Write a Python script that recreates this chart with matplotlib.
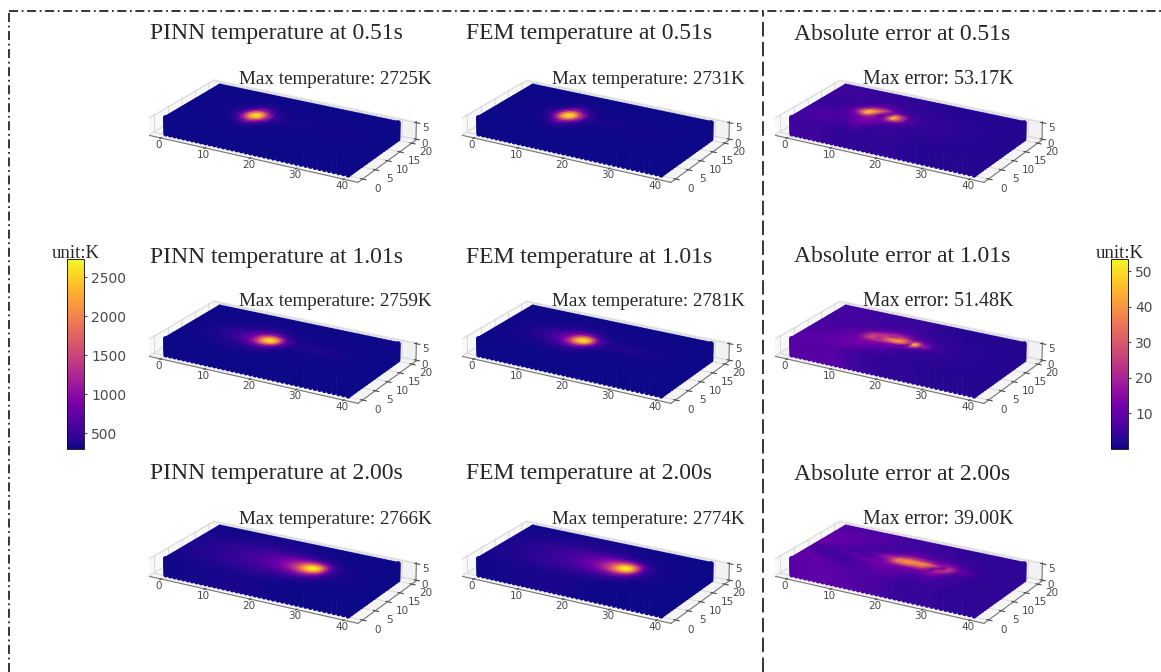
import numpy as np
import matplotlib
matplotlib.use('Agg')
import matplotlib.pyplot as plt
from matplotlib.cm import ScalarMappable
from matplotlib.colors import Normalize
from mpl_toolkits.mplot3d import proj3d


WIDTH = 1161
HEIGHT = 672

COLUMN_TITLES = ['PINN temperature at', 'FEM temperature at', 'Absolute error at']
TIMES = ['0.51s', '1.01s', '2.00s']
MAX_PINN = ['2725K', '2759K', '2766K']
MAX_FEM = ['2731K', '2781K', '2774K']
MAX_ERROR = ['53.17K', '51.48K', '39.00K']

TEMP_RANGE = (295, 2735)
ERROR_RANGE = (0, 53.4)
TEMP_TICKS = [500, 1000, 1500, 2000, 2500]
ERROR_TICKS = [10, 20, 30, 40, 50]

# top face of the melt pool box (K), rows follow y nodes
X_T1 = [0, 8, 10, 11.5, 12.5, 13.5, 14.5, 15.5, 16.5, 18, 20, 40]
Y_T1 = [0, 3.5, 5.6, 7.2, 8.5, 9.8, 11.1, 12.4, 14, 16, 20]
TEMP_051 = [
    [295, 295, 295, 295, 295, 295, 295, 295, 295, 295, 295, 295],
    [300, 300, 305, 310, 320, 330, 335, 330, 315, 305, 300, 300],
    [300, 305, 320, 350, 420, 520, 560, 500, 400, 340, 310, 300],
    [300, 310, 340, 450, 750, 1100, 1250, 1050, 700, 400, 320, 300],
    [300, 315, 370, 660, 1300, 2000, 2300, 2000, 1250, 520, 335, 300],
    [300, 320, 400, 800, 1600, 2450, 2700, 2450, 1500, 620, 350, 300],
    [300, 315, 370, 660, 1300, 2000, 2300, 2000, 1250, 520, 335, 300],
    [300, 310, 340, 450, 750, 1100, 1250, 1050, 700, 400, 320, 300],
    [300, 305, 320, 350, 420, 520, 560, 500, 400, 340, 310, 300],
    [300, 300, 305, 310, 320, 330, 335, 330, 315, 305, 300, 300],
    [295, 295, 295, 295, 295, 295, 295, 295, 295, 295, 295, 295],
]

X_T2 = [0, 5, 9, 12, 14, 15, 16, 17, 18, 19, 20, 21, 23, 40]
Y_T2 = [0, 3.2, 5.3, 6.8, 8, 9.3, 10.6, 11.9, 13.5, 15.5, 20]
TEMP_101 = [
    [300, 300, 300, 300, 300, 300, 300, 300, 300, 300, 300, 300, 300, 300],
    [300, 305, 320, 335, 345, 350, 355, 355, 350, 340, 325, 315, 305, 300],
    [305, 320, 350, 390, 430, 470, 500, 510, 490, 450, 390, 350, 315, 300],
    [305, 330, 390, 480, 640, 800, 1000, 1150, 1100, 900, 600, 430, 340, 300],
    [310, 335, 410, 560, 820, 1150, 1600, 2100, 2200, 1950, 1200, 650, 370, 300],
    [310, 340, 420, 590, 900, 1300, 1950, 2550, 2720, 2500, 1600, 800, 400, 300],
    [310, 335, 410, 560, 820, 1150, 1600, 2100, 2200, 1950, 1200, 650, 370, 300],
    [305, 330, 390, 470, 620, 780, 980, 1100, 1080, 880, 590, 420, 340, 300],
    [305, 320, 350, 380, 420, 450, 470, 480, 470, 430, 380, 340, 315, 300],
    [300, 305, 315, 325, 335, 340, 345, 345, 340, 330, 320, 310, 305, 300],
    [300, 300, 300, 300, 300, 300, 300, 300, 300, 300, 300, 300, 300, 300],
]

X_T3 = [0, 8, 13, 17, 20, 22, 24, 25, 26, 27, 28, 29, 30, 31, 33, 40]
Y_T3 = [0, 2.5, 5, 6.8, 8, 9.2, 10.4, 11.6, 12.8, 14, 16, 20]
TEMP_200 = [
    [310, 330, 340, 340, 330, 320, 310, 305, 305, 300, 300, 300, 300, 300, 300, 300],
    [330, 360, 390, 400, 400, 390, 370, 360, 350, 340, 330, 320, 315, 310, 305, 300],
    [340, 400, 450, 490, 520, 550, 560, 550, 530, 510, 460, 420, 380, 350, 320, 300],
    [350, 420, 500, 580, 680, 800, 950, 1050, 1150, 1150, 1000, 780, 560, 420, 330, 300],
    [350, 430, 520, 630, 780, 1000, 1350, 1600, 1850, 1950, 1750, 1300, 800, 480, 340, 300],
    [350, 430, 530, 650, 840, 1100, 1600, 2050, 2500, 2700, 2500, 1800, 1000, 550, 350, 300],
    [350, 430, 530, 650, 840, 1100, 1600, 2050, 2550, 2730, 2500, 1800, 1000, 550, 350, 300],
    [350, 430, 520, 630, 780, 1000, 1350, 1600, 1850, 1950, 1750, 1300, 800, 480, 340, 300],
    [350, 420, 500, 580, 680, 800, 950, 1050, 1120, 1100, 980, 760, 540, 410, 330, 300],
    [340, 400, 450, 490, 530, 560, 570, 560, 540, 500, 460, 420, 380, 350, 320, 300],
    [330, 360, 380, 390, 390, 380, 370, 360, 350, 340, 330, 320, 315, 310, 305, 300],
    [310, 320, 330, 330, 325, 315, 310, 305, 305, 300, 300, 300, 300, 300, 300, 300],
]

X_E1 = [0, 5, 8, 9.5, 11, 12.5, 14, 15.5, 17, 18.5, 20, 23, 29, 40]
Y_E1 = [0, 4, 6, 7.5, 8.7, 9.6, 10.8, 12, 13.5, 16, 20]
ERROR_051 = [
    [5, 5, 4, 4, 3, 3, 3, 3, 3, 3, 3, 3, 2, 2],
    [6, 7, 6, 6, 8, 10, 8, 5, 4, 4, 4, 3, 3, 2],
    [6, 7, 7, 9, 11, 13, 12, 9, 6, 5, 4, 3, 3, 2],
    [5, 6, 7, 9, 13, 15, 14, 13, 13, 10, 6, 4, 3, 2],
    [5, 5, 8, 16, 32, 22, 8, 14, 36, 24, 9, 4, 3, 2],
    [4, 5, 9, 24, 48, 30, 6, 18, 50, 28, 9, 4, 3, 2],
    [4, 4, 8, 22, 46, 42, 20, 10, 38, 24, 7, 4, 3, 2],
    [4, 4, 6, 12, 22, 30, 28, 14, 11, 9, 5, 4, 3, 2],
    [4, 4, 4, 5, 8, 11, 11, 8, 5, 4, 4, 3, 3, 2],
    [5, 5, 4, 4, 4, 4, 4, 4, 4, 3, 3, 3, 2, 2],
    [4, 4, 4, 4, 4, 4, 3, 3, 3, 3, 3, 2, 2, 2],
]

X_E2 = [0, 6, 10, 12.5, 14.5, 16.5, 18.5, 20, 21, 22, 23.5, 26, 31, 40]
Y_E2 = [0, 3, 5.5, 6.8, 7.6, 8.5, 9.5, 10.5, 11.5, 13, 15.5, 20]
ERROR_101 = [
    [8, 8, 8, 6, 5, 4, 4, 3, 3, 3, 3, 3, 2, 2],
    [8, 9, 11, 10, 8, 6, 5, 4, 4, 3, 3, 3, 3, 2],
    [7, 9, 11, 13, 12, 10, 8, 6, 5, 4, 4, 3, 3, 2],
    [7, 8, 11, 15, 15, 13, 13, 11, 11, 9, 6, 4, 3, 2],
    [6, 8, 10, 22, 22, 20, 16, 6, 14, 18, 10, 5, 3, 2],
    [6, 8, 11, 28, 20, 32, 38, 26, 8, 42, 18, 6, 3, 2],
    [6, 7, 10, 26, 22, 36, 42, 32, 22, 50, 20, 6, 3, 2],
    [6, 7, 9, 22, 24, 20, 32, 26, 18, 24, 12, 5, 3, 2],
    [6, 6, 8, 12, 18, 22, 20, 14, 10, 9, 7, 4, 3, 2],
    [5, 6, 6, 7, 8, 9, 9, 8, 6, 5, 4, 3, 3, 2],
    [6, 6, 5, 5, 5, 5, 5, 4, 4, 4, 3, 3, 2, 2],
    [6, 5, 5, 4, 4, 4, 4, 4, 3, 3, 3, 2, 2, 2],
]

X_E3 = [0, 4, 9, 13, 16, 18, 20, 22, 24, 26, 27.5, 29, 31, 35, 40]
Y_E3 = [0, 3, 5.5, 7.2, 8.6, 9.5, 10.5, 11.5, 13, 15.5, 20]
ERROR_200 = [
    [8, 9, 9, 8, 7, 7, 6, 5, 4, 4, 4, 4, 4, 3, 3],
    [10, 10, 7, 6, 8, 9, 9, 7, 5, 5, 6, 5, 5, 3, 3],
    [9, 6, 5, 8, 11, 11, 10, 9, 8, 8, 10, 7, 5, 4, 3],
    [7, 5, 8, 12, 12, 14, 13, 13, 12, 14, 16, 10, 5, 3, 3],
    [6, 6, 9, 7, 15, 30, 34, 29, 26, 8, 24, 20, 8, 4, 3],
    [8, 7, 6, 8, 18, 36, 40, 37, 36, 16, 14, 26, 10, 4, 3],
    [10, 8, 5, 10, 20, 33, 39, 38, 38, 26, 10, 24, 12, 4, 3],
    [11, 9, 6, 8, 14, 20, 26, 24, 22, 14, 18, 16, 8, 4, 3],
    [10, 9, 7, 5, 7, 10, 12, 11, 9, 9, 9, 7, 5, 3, 3],
    [9, 9, 8, 7, 5, 5, 6, 5, 5, 5, 4, 4, 4, 3, 3],
    [7, 7, 7, 6, 5, 5, 5, 4, 4, 4, 3, 3, 3, 3, 3],
]

plt.rcParams['font.family'] = ['DejaVu Sans']
SERIF = 'Liberation Serif'
INK = '#262626'
TICK_INK = '#4a4a4a'
COLUMN_SHIFT = [0, 313, 626]
ROW_SHIFT = [0, 221, 441]


def add_panel(fig, overlay, column, row, x_nodes, y_nodes, values, value_range):
    'Draw one 3D box with its axes, wall points and a smooth shaded top face.'
    left = 77 + COLUMN_SHIFT[column]
    top = -66 + ROW_SHIFT[row]
    ax = fig.add_axes([left / WIDTH, 1 - (top + 400) / HEIGHT, 400 / WIDTH, 400 / HEIGHT],
                      projection='3d')
    ax.patch.set_alpha(0)
    ax.view_init(elev=22, azim=-60)
    ax.set_xlim(-2.6, 43)
    ax.set_ylim(-1.8, 21.8)
    ax.set_zlim(-0.3, 5.3)
    ax.set_box_aspect((45.6, 23.6, 3.8), zoom=0.65)
    ax.set_xticks([0, 10, 20, 30, 40])
    ax.set_yticks([0, 5, 10, 15, 20])
    ax.set_zticks([0, 5])
    ax.tick_params(labelsize=7.5, colors=TICK_INK, pad=-3, length=2)
    ax.tick_params(axis='x', pad=-4)
    ax.tick_params(axis='y', pad=2)
    for axis in (ax.xaxis, ax.yaxis, ax.zaxis):
        axis._axinfo['grid']['linewidth'] = 0.6
        axis._axinfo['grid']['color'] = '#d4d4d4'
        axis.line.set_color('#777777')
        axis.line.set_linewidth(0.8)

    norm = Normalize(*value_range)
    cmap = plt.get_cmap('plasma')
    table = np.array(values, dtype=float)

    # sample points of the two visible walls and the far edges of the top
    samples_x = np.arange(0, 40.5, 1.0)
    samples_y = np.arange(0, 20.5, 1.0)
    samples_z = np.arange(0, 5.5, 0.5)
    edge_x = np.arange(0, 40.5, 0.5)
    edge_y = np.arange(0, 20.5, 0.5)
    ax.scatter(edge_x, np.full(edge_x.size, 20.4), np.full(edge_x.size, 5.0), s=10,
               color='#d4d2f4', depthshade=False, linewidths=0)
    fx, fz = np.meshgrid(samples_x, samples_z)
    ax.scatter(fx.ravel(), np.zeros(fx.size), fz.ravel(), s=14,
               c=np.interp(fx.ravel(), x_nodes, table[0]), cmap=cmap, norm=norm,
               depthshade=False, linewidths=0)
    ry, rz = np.meshgrid(samples_y, samples_z)
    ax.scatter(np.full(ry.size, 40.0), ry.ravel(), rz.ravel(), s=14,
               c=np.interp(ry.ravel(), y_nodes, table[:, -1]), cmap=cmap, norm=norm,
               depthshade=False, linewidths=0)
    ax.scatter(edge_x, np.full(edge_x.size, 20.0), np.full(edge_x.size, 5.0), s=8,
               c=np.interp(edge_x, x_nodes, table[-1]), cmap=cmap, norm=norm,
               depthshade=False, linewidths=0)
    ax.scatter(np.zeros(edge_y.size), edge_y, np.full(edge_y.size, 5.0), s=8,
               c=np.interp(edge_y, y_nodes, table[:, 0]), cmap=cmap, norm=norm,
               depthshade=False, linewidths=0)

    fig.canvas.draw()
    grid_x, grid_y = np.meshgrid(x_nodes, y_nodes)
    px, py, _ = proj3d.proj_transform(grid_x.ravel(), grid_y.ravel(), np.full(grid_x.size, 5.0),
                                      ax.get_proj())
    pixels = ax.transData.transform(np.column_stack([px, py]))
    mesh_x = pixels[:, 0].reshape(grid_x.shape)
    mesh_y = pixels[:, 1].reshape(grid_x.shape)
    overlay.pcolormesh(mesh_x, mesh_y, table, shading='gouraud', cmap=cmap, norm=norm,
                       rasterized=True)


def add_colorbar(fig, left, value_range, ticks):
    'Add one vertical colour bar with its unit label.'
    cax = fig.add_axes([left / WIDTH, 1 - 449 / HEIGHT, 17 / WIDTH, 190 / HEIGHT])
    mappable = ScalarMappable(norm=Normalize(*value_range), cmap='plasma')
    bar = fig.colorbar(mappable, cax=cax, ticks=ticks)
    bar.ax.tick_params(labelsize=10, colors=TICK_INK, length=2, pad=3)
    bar.outline.set_linewidth(0.6)
    fig.text((left + 8.5) / WIDTH, 1 - 253 / HEIGHT, 'unit:K', family=SERIF, fontsize=13.5,
             color=INK, ha='center', va='center')


def main():
    fig = plt.figure(figsize=(WIDTH / 100, HEIGHT / 100), dpi=100)
    fig.patch.set_facecolor('white')

    overlay = fig.add_axes([0, 0, 1, 1], zorder=10)
    overlay.set_xlim(0, WIDTH)
    overlay.set_ylim(0, HEIGHT)
    overlay.axis('off')

    temp_tables = [(X_T1, Y_T1, TEMP_051), (X_T2, Y_T2, TEMP_101), (X_T3, Y_T3, TEMP_200)]
    error_tables = [(X_E1, Y_E1, ERROR_051), (X_E2, Y_E2, ERROR_101), (X_E3, Y_E3, ERROR_200)]

    title_x = [150, 466, 794]
    max_x = [239, 552, 863]
    title_y = [34, 257, 474]
    max_y = [80, 302, 519]

    for row in range(3):
        # FEM and PINN fields look the same at this size, so they share a table
        xs, ys, temps = temp_tables[row]
        add_panel(fig, overlay, 0, row, xs, ys, temps, TEMP_RANGE)
        add_panel(fig, overlay, 1, row, xs, ys, temps, TEMP_RANGE)
        xs, ys, errors = error_tables[row]
        add_panel(fig, overlay, 2, row, xs, ys, errors, ERROR_RANGE)

        for column in range(3):
            fig.text(title_x[column] / WIDTH, 1 - title_y[row] / HEIGHT,
                     f'{COLUMN_TITLES[column]} {TIMES[row]}', family=SERIF, fontsize=17,
                     color=INK, ha='left', va='center')
        fig.text(max_x[0] / WIDTH, 1 - max_y[row] / HEIGHT, f'Max temperature: {MAX_PINN[row]}',
                 family=SERIF, fontsize=13.8, color=INK, ha='left', va='center')
        fig.text(max_x[1] / WIDTH, 1 - max_y[row] / HEIGHT, f'Max temperature: {MAX_FEM[row]}',
                 family=SERIF, fontsize=13.8, color=INK, ha='left', va='center')
        fig.text(max_x[2] / WIDTH, 1 - max_y[row] / HEIGHT, f'Max error: {MAX_ERROR[row]}',
                 family=SERIF, fontsize=14.4, color=INK, ha='left', va='center')

    add_colorbar(fig, 67, TEMP_RANGE, TEMP_TICKS)
    add_colorbar(fig, 1111, ERROR_RANGE, ERROR_TICKS)

    # frame lines around the figure and the divider before the error column
    overlay.plot([9, WIDTH], [HEIGHT - 10.5, HEIGHT - 10.5], color=INK, lw=1.3,
                 dashes=(5, 2, 1, 2))
    overlay.plot([9, 9], [0, HEIGHT - 10.5], color=INK, lw=1.3, dashes=(5, 2, 1, 2))
    overlay.plot([763, 763], [0, HEIGHT - 11], color=INK, lw=1.3, dashes=(8, 3))

    fig.savefig('out.png', dpi=100, facecolor='white')


if __name__ == '__main__':
    main()
